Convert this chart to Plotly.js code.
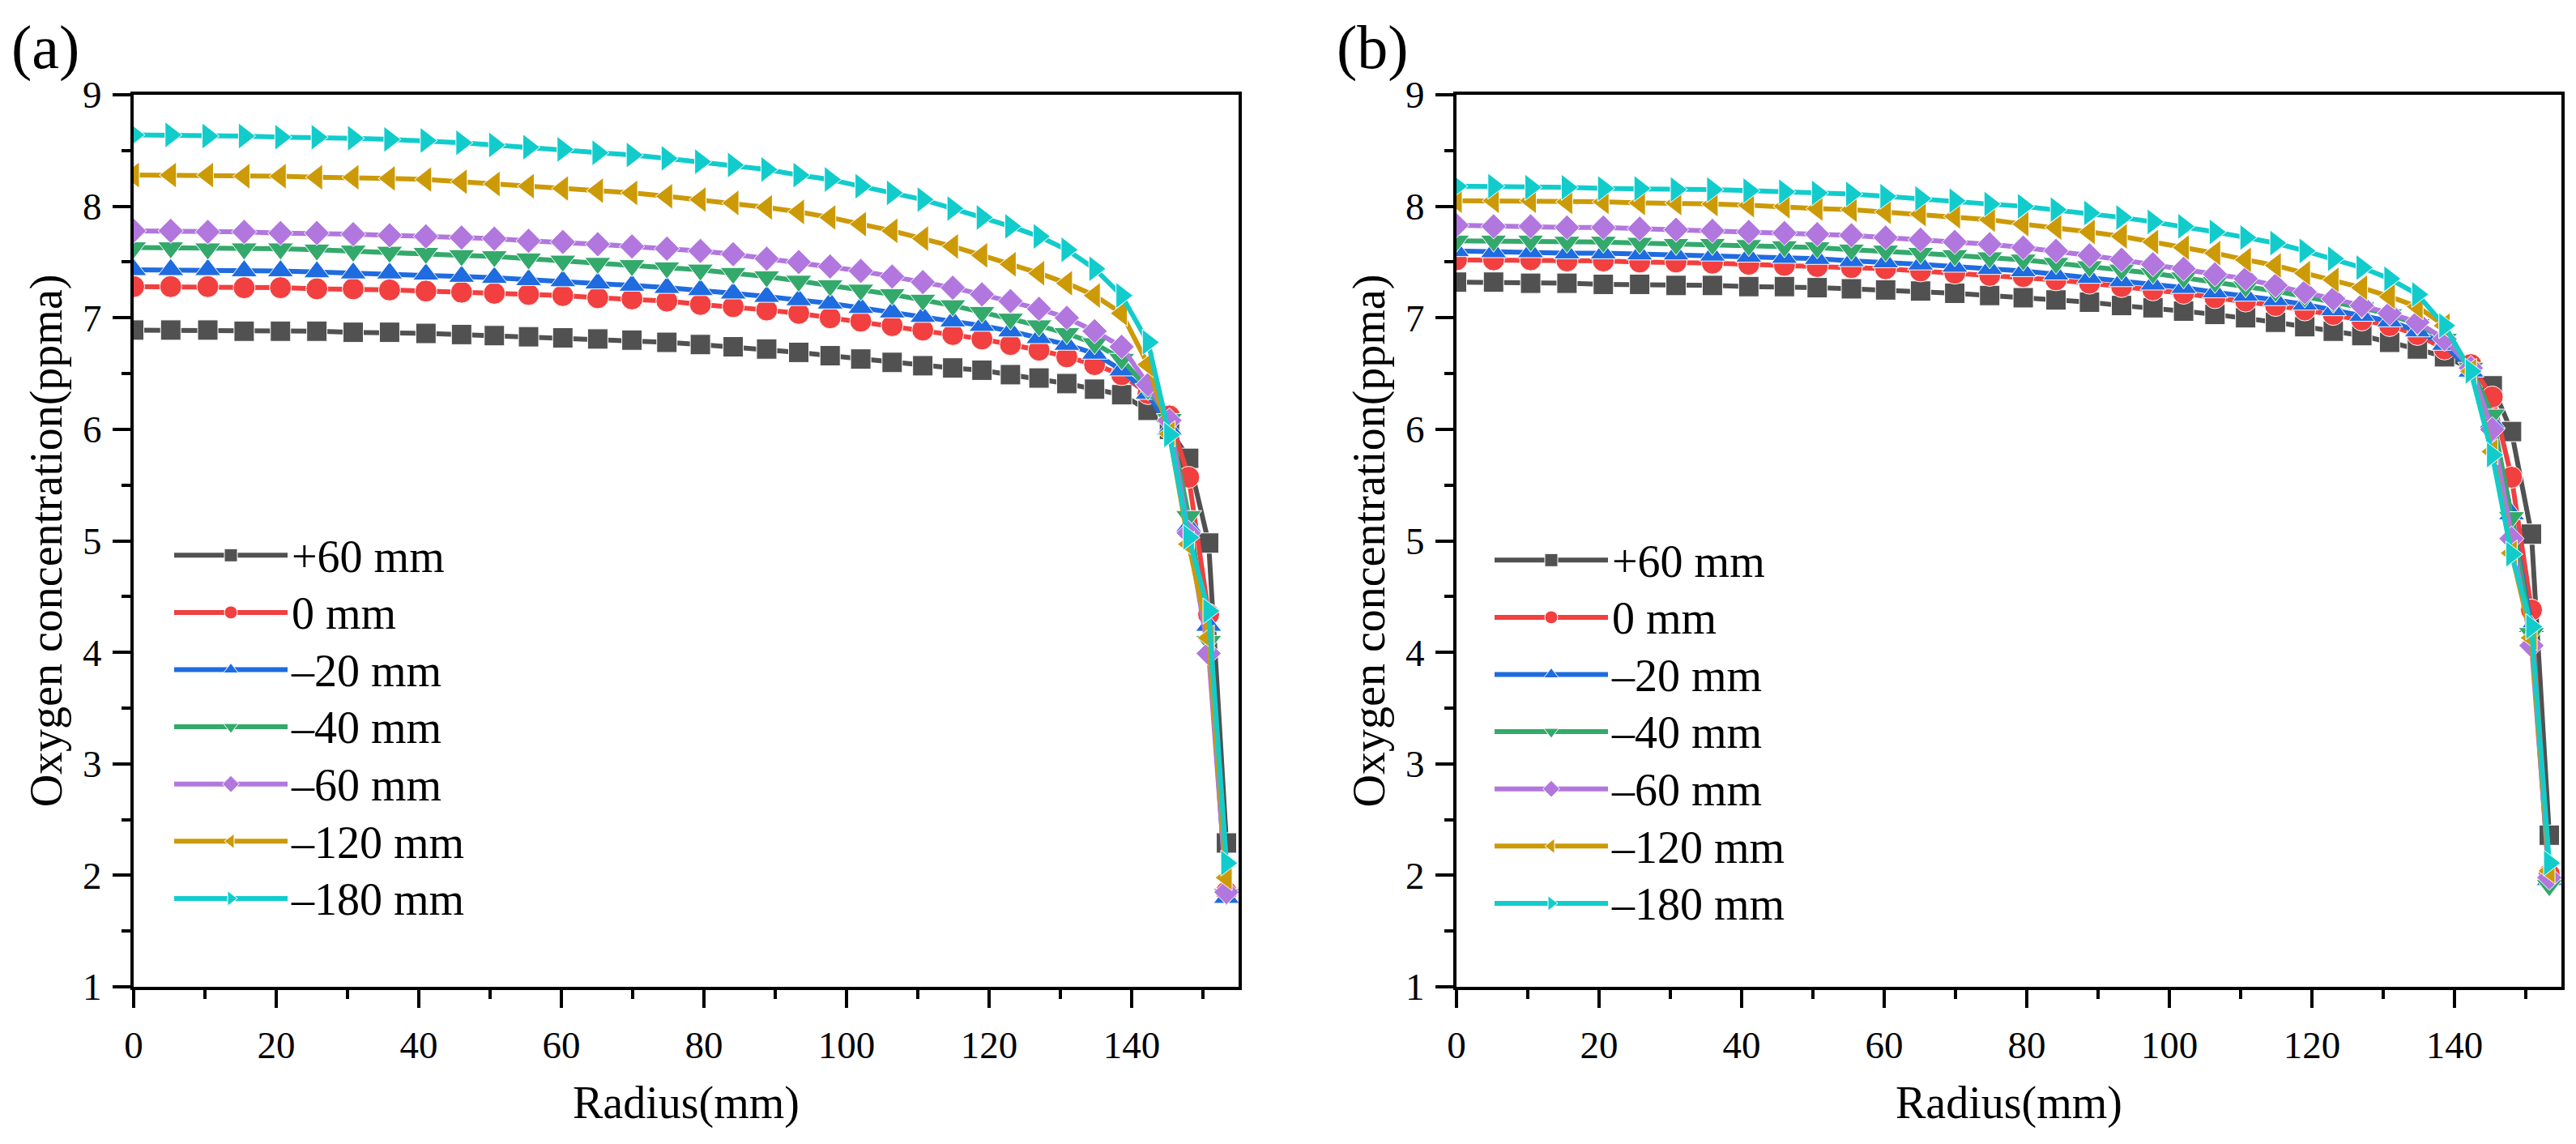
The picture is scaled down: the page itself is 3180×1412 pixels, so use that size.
<!DOCTYPE html>
<html>
<head>
<meta charset="utf-8">
<script src="https://cdn.plot.ly/plotly-3.0.1.min.js"></script>
<style>html,body{margin:0;padding:0;background:#fff;}#chart{width:3180px;height:1412px;}</style>
</head>
<body>
<div id="chart"></div>
<script>
// Radius positions (mm)
const radius = [0, 5.2, 10.4, 15.5, 20.6, 25.7, 30.8, 35.9, 41.0, 46.0, 50.6, 55.4, 60.2, 65.1, 69.9, 74.8, 79.5, 84.1, 88.8, 93.3, 97.7, 102.0, 106.4, 110.7, 114.9, 119.0, 123.0, 127.0, 130.9, 134.8, 138.6, 142.3, 145.3, 148.0, 150.8, 153.3];

const seriesNames = ["+60 mm", "0 mm", "\u201320 mm", "\u201340 mm", "\u201360 mm", "\u2013120 mm", "\u2013180 mm"];

// Panel (a)
const a_p60  = [6.89, 6.89, 6.89, 6.88, 6.88, 6.88, 6.87, 6.87, 6.86, 6.85, 6.84, 6.83, 6.82, 6.81, 6.80, 6.78, 6.76, 6.74, 6.72, 6.69, 6.66, 6.63, 6.60, 6.57, 6.55, 6.53, 6.49, 6.46, 6.41, 6.36, 6.31, 6.17, 6.00, 5.74, 4.98, 2.29];
const a_0    = [7.28, 7.28, 7.28, 7.27, 7.27, 7.26, 7.26, 7.25, 7.24, 7.23, 7.22, 7.21, 7.20, 7.18, 7.17, 7.15, 7.12, 7.10, 7.07, 7.04, 7.00, 6.97, 6.93, 6.89, 6.85, 6.81, 6.76, 6.71, 6.65, 6.58, 6.49, 6.32, 6.12, 5.57, 4.34, 1.85];
const a_m20  = [7.43, 7.43, 7.43, 7.42, 7.42, 7.41, 7.40, 7.40, 7.39, 7.37, 7.36, 7.34, 7.33, 7.31, 7.29, 7.27, 7.25, 7.22, 7.19, 7.16, 7.13, 7.09, 7.05, 7.01, 6.97, 6.93, 6.88, 6.82, 6.76, 6.68, 6.53, 6.32, 6.00, 5.13, 4.24, 1.80];
const a_m40  = [7.63, 7.63, 7.62, 7.62, 7.62, 7.61, 7.60, 7.59, 7.58, 7.56, 7.55, 7.53, 7.51, 7.49, 7.47, 7.45, 7.43, 7.40, 7.37, 7.33, 7.29, 7.25, 7.21, 7.16, 7.11, 7.05, 6.99, 6.93, 6.86, 6.77, 6.63, 6.36, 6.09, 5.22, 4.10, 1.83];
const a_m60  = [7.78, 7.78, 7.77, 7.77, 7.76, 7.76, 7.75, 7.74, 7.73, 7.72, 7.71, 7.69, 7.68, 7.66, 7.64, 7.62, 7.60, 7.57, 7.53, 7.50, 7.46, 7.42, 7.37, 7.32, 7.27, 7.21, 7.15, 7.08, 7.00, 6.88, 6.74, 6.40, 6.08, 5.07, 3.99, 1.85];
const a_m120 = [8.28, 8.28, 8.28, 8.27, 8.27, 8.26, 8.26, 8.25, 8.24, 8.22, 8.20, 8.18, 8.16, 8.14, 8.12, 8.09, 8.06, 8.03, 7.99, 7.95, 7.90, 7.84, 7.78, 7.71, 7.64, 7.56, 7.48, 7.40, 7.31, 7.20, 7.04, 6.58, 5.96, 4.97, 4.13, 1.98];
const a_m180 = [8.64, 8.64, 8.63, 8.63, 8.62, 8.62, 8.61, 8.60, 8.59, 8.57, 8.55, 8.53, 8.51, 8.48, 8.46, 8.43, 8.40, 8.37, 8.33, 8.28, 8.24, 8.18, 8.12, 8.06, 7.98, 7.90, 7.82, 7.73, 7.61, 7.44, 7.20, 6.78, 5.95, 5.03, 4.37, 2.11];

// Panel (b)
const b_p60  = [7.32, 7.32, 7.31, 7.31, 7.30, 7.30, 7.29, 7.29, 7.28, 7.28, 7.27, 7.26, 7.25, 7.24, 7.22, 7.20, 7.18, 7.16, 7.14, 7.11, 7.09, 7.06, 7.03, 7.00, 6.96, 6.92, 6.88, 6.84, 6.78, 6.72, 6.65, 6.55, 6.39, 5.98, 5.06, 2.36];
const b_0    = [7.52, 7.52, 7.52, 7.51, 7.51, 7.50, 7.50, 7.49, 7.48, 7.47, 7.46, 7.45, 7.44, 7.42, 7.40, 7.38, 7.37, 7.34, 7.31, 7.28, 7.25, 7.22, 7.18, 7.15, 7.11, 7.07, 7.03, 6.98, 6.93, 6.85, 6.72, 6.58, 6.29, 5.57, 4.38, 2.01];
const b_m20  = [7.60, 7.59, 7.59, 7.58, 7.58, 7.57, 7.57, 7.56, 7.55, 7.54, 7.53, 7.51, 7.50, 7.48, 7.46, 7.44, 7.42, 7.39, 7.36, 7.33, 7.30, 7.27, 7.23, 7.20, 7.16, 7.12, 7.07, 7.02, 6.97, 6.88, 6.76, 6.52, 6.06, 5.24, 4.23, 1.96];
const b_m40  = [7.69, 7.69, 7.69, 7.68, 7.68, 7.67, 7.66, 7.66, 7.65, 7.64, 7.63, 7.61, 7.60, 7.58, 7.56, 7.54, 7.52, 7.49, 7.46, 7.43, 7.40, 7.36, 7.32, 7.28, 7.24, 7.19, 7.14, 7.09, 7.03, 6.94, 6.81, 6.55, 6.13, 5.21, 4.17, 1.91];
const b_m60  = [7.83, 7.82, 7.82, 7.81, 7.81, 7.80, 7.79, 7.78, 7.77, 7.76, 7.75, 7.74, 7.72, 7.70, 7.68, 7.66, 7.63, 7.60, 7.56, 7.52, 7.48, 7.44, 7.39, 7.35, 7.29, 7.23, 7.17, 7.11, 7.04, 6.96, 6.81, 6.55, 6.00, 5.02, 4.06, 1.98];
const b_m120 = [8.05, 8.05, 8.05, 8.04, 8.04, 8.03, 8.03, 8.02, 8.01, 8.00, 7.98, 7.97, 7.95, 7.93, 7.91, 7.88, 7.84, 7.81, 7.77, 7.73, 7.68, 7.63, 7.58, 7.52, 7.47, 7.40, 7.34, 7.27, 7.19, 7.10, 6.93, 6.52, 5.80, 4.89, 4.13, 2.04];
const b_m180 = [8.18, 8.18, 8.17, 8.17, 8.16, 8.16, 8.15, 8.15, 8.14, 8.13, 8.12, 8.11, 8.09, 8.07, 8.05, 8.02, 8.00, 7.97, 7.94, 7.90, 7.86, 7.82, 7.77, 7.72, 7.67, 7.60, 7.53, 7.45, 7.35, 7.21, 6.93, 6.52, 5.77, 4.88, 4.23, 2.11];

const xTickVals = [0, 20, 40, 60, 80, 100, 120, 140];
const yTickVals = [1, 2, 3, 4, 5, 6, 7, 8, 9];

const colors  = ["#515151", "#F23F3F", "#1F6BE0", "#33A96B", "#B177DE", "#CC9A06", "#12CCCC"];
const symbols = ["square", "circle", "triangle-up", "triangle-down", "diamond", "triangle-left", "triangle-right"];
const msizes  = [25, 27, 28, 28, 24, 28, 28];

const panelA = [a_p60, a_0, a_m20, a_m40, a_m60, a_m120, a_m180];
const panelB = [b_p60, b_0, b_m20, b_m40, b_m60, b_m120, b_m180];

const FONT = "'Liberation Serif', 'Times New Roman', Times, serif";
const traces = [];
function addPanel(data, xa, ya, leg) {
  data.forEach((ys, i) => {
    traces.push({
      type: "scatter", mode: "lines+markers",
      x: radius, y: ys,
      name: '<span style="font-size:56px">' + seriesNames[i] + '</span>',
      xaxis: xa, yaxis: ya, legend: leg,
      line: {color: colors[i], width: 6},
      marker: {symbol: symbols[i], size: msizes[i], color: colors[i], line: {width: 1, color: "#ffffff"}}
    });
  });
}
addPanel(panelA, "x", "y", "legend");
addPanel(panelB, "x2", "y2", "legend2");

const W = 3180, H = 1412;
function xAxis(d0, d1, anchor) {
  return {
    domain: [d0 / W, d1 / W], anchor: anchor,
    range: [0, 155], tickvals: xTickVals, ticktext: xTickVals.map(String),
    ticks: "outside", ticklen: 22, tickwidth: 4, tickcolor: "#000",
    minor: {ticks: "outside", ticklen: 11, tickwidth: 4, tickcolor: "#000", dtick: 10, tick0: 0},
    showline: true, linewidth: 4, linecolor: "#000", mirror: true,
    showgrid: false, zeroline: false,
    tickfont: {family: FONT, size: 47, color: "#000"},
    ticklabelstandoff: 6,
    title: {text: "Radius(mm)", font: {family: FONT, size: 56, color: "#000"}, standoff: 26},
    automargin: false
  };
}
function yAxis(anchor) {
  return {
    domain: [(H - 1218) / H, (H - 117) / H], anchor: anchor,
    range: [1, 9], tickvals: yTickVals, ticktext: yTickVals.map(String),
    ticks: "outside", ticklen: 22, tickwidth: 4, tickcolor: "#000",
    minor: {ticks: "outside", ticklen: 11, tickwidth: 4, tickcolor: "#000", dtick: 0.5, tick0: 1},
    showline: true, linewidth: 4, linecolor: "#000", mirror: true,
    showgrid: false, zeroline: false,
    tickfont: {family: FONT, size: 47, color: "#000"},
    ticklabelstandoff: 4,
    title: {text: "Oxygen concentration(ppma)", font: {family: FONT, size: 56, color: "#000"}, standoff: 8},
    automargin: false
  };
}
function legendCfg(xpx, ypx) {
  return {
    x: xpx / W, y: (H - ypx) / H, xanchor: "left", yanchor: "top",
    bgcolor: "rgba(0,0,0,0)", borderwidth: 0,
    font: {family: FONT, size: 52, color: "#000"},
    itemwidth: 140, tracegroupgap: 0, itemsizing: "trace"
  };
}

const layout = {
  width: W, height: H,
  margin: {l: 0, r: 0, t: 0, b: 0},
  paper_bgcolor: "#fff", plot_bgcolor: "#fff",
  font: {family: FONT, color: "#000"},
  showlegend: true,
  xaxis: xAxis(165, 1529, "y"),
  yaxis: yAxis("x"),
  xaxis2: xAxis(1798, 3162, "y2"),
  yaxis2: yAxis("x2"),
  legend: legendCfg(210, 645),
  legend2: legendCfg(1840, 651),
  annotations: [
    {text: "(a)", x: 12 / W, y: (H - 58) / H, xref: "paper", yref: "paper", xanchor: "left", yanchor: "middle", showarrow: false, font: {family: FONT, size: 76, color: "#000"}},
    {text: "(b)", x: 1648 / W, y: (H - 58) / H, xref: "paper", yref: "paper", xanchor: "left", yanchor: "middle", showarrow: false, font: {family: FONT, size: 76, color: "#000"}}
  ]
};

Plotly.newPlot("chart", traces, layout, {staticPlot: true, displayModeBar: false});
</script>
</body>
</html>
